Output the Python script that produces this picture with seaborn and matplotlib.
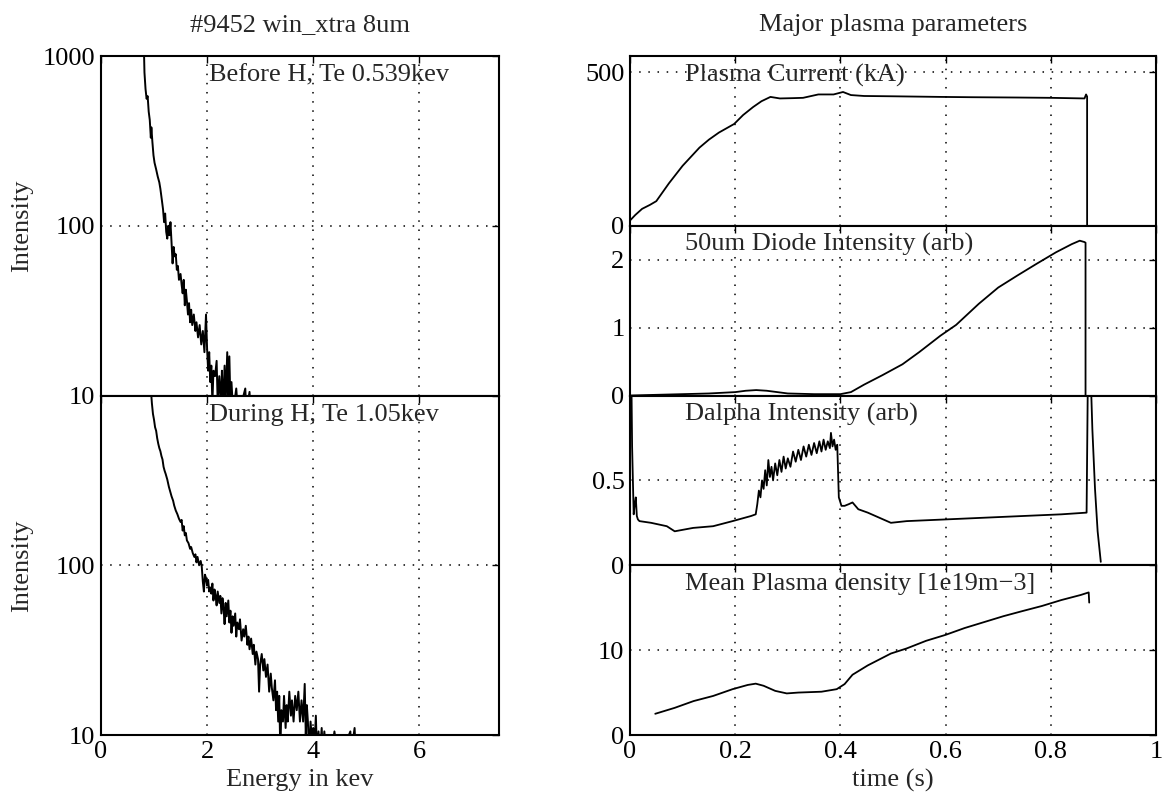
import numpy as np
import pandas as pd
import matplotlib
matplotlib.use("Agg")
import matplotlib.pyplot as plt
from matplotlib.ticker import NullLocator
import seaborn as sns

# --- spectra (energy in keV, intensity) ---
e_before = [0.81, 0.82, 0.84, 0.86, 0.88, 0.90, 0.92, 0.94, 0.95, 0.97, 0.99, 1.01, 1.04, 1.07,
            1.10, 1.12, 1.15, 1.17, 1.19, 1.21, 1.23, 1.25, 1.27, 1.29, 1.31, 1.33, 1.35, 1.37,
            1.39, 1.41, 1.43, 1.45, 1.47, 1.50, 1.52, 1.54, 1.56, 1.58, 1.60, 1.62, 1.64, 1.66,
            1.68, 1.70, 1.72, 1.75, 1.78, 1.80, 1.83, 1.86, 1.89, 1.92, 1.95, 1.98, 2.00, 2.02,
            2.04, 2.06, 2.08, 2.10, 2.12, 2.15, 2.18, 2.20, 2.23, 2.26, 2.28, 2.30, 2.33, 2.35,
            2.38, 2.40, 2.42, 2.44, 2.46, 2.49, 2.55, 2.58, 2.65, 2.72, 2.74, 2.80, 2.82, 2.85]
i_before = [1100, 800, 640, 560, 580, 470, 420, 330, 380, 310, 260, 235, 215, 195,
            180, 165, 140, 125, 105, 118, 92, 84, 100, 88, 105, 80, 60, 75,
            66, 68, 55, 58, 48, 52, 45, 40, 48, 34, 42, 36, 30, 35,
            27, 32, 26, 30, 24, 27, 22, 26, 20, 24, 18, 30, 19, 14,
            18, 12, 15, 9, 14, 13, 16, 9, 13, 9, 14, 8, 15, 9,
            18, 8, 17, 9, 12, 8, 11, 8, 9, 11, 8, 10.5, 8, 9]

e_during = [0.94, 0.96, 0.98, 1.00, 1.02, 1.04, 1.06, 1.08, 1.10, 1.12, 1.14, 1.16, 1.18, 1.20,
            1.22, 1.25, 1.28, 1.30, 1.33, 1.36, 1.38, 1.41, 1.44, 1.47, 1.50, 1.52, 1.54, 1.56,
            1.58, 1.60, 1.62, 1.65, 1.68, 1.70, 1.73, 1.76, 1.78, 1.80, 1.82, 1.85, 1.88, 1.90,
            1.92, 1.94, 1.96, 1.98, 2.00, 2.02, 2.04, 2.06, 2.08, 2.10, 2.12, 2.14, 2.16, 2.18,
            2.20, 2.23, 2.25, 2.27, 2.29, 2.31, 2.33, 2.35, 2.37, 2.40, 2.42, 2.44, 2.46, 2.48,
            2.50, 2.53, 2.55, 2.57, 2.60, 2.62, 2.65, 2.68, 2.70, 2.73, 2.76, 2.78, 2.80, 2.83,
            2.86, 2.88, 2.91, 2.93, 2.96, 2.98, 3.00, 3.03, 3.06, 3.08, 3.11, 3.14, 3.17, 3.20,
            3.22, 3.25, 3.28, 3.30, 3.32, 3.34, 3.36, 3.38, 3.40, 3.43, 3.45, 3.48, 3.50, 3.52,
            3.55, 3.58, 3.60, 3.63, 3.66, 3.69, 3.72, 3.75, 3.78, 3.81, 3.84, 3.86, 3.88, 3.90,
            3.92, 3.95, 3.98, 4.00, 4.02, 4.05, 4.07, 4.10, 4.13, 4.16, 4.18, 4.21, 4.24, 4.30,
            4.35, 4.40, 4.45, 4.52, 4.55, 4.70, 4.72, 4.78, 4.80]
i_during = [1100, 900, 780, 720, 650, 620, 560, 520, 490, 470, 440, 420, 380, 360,
            345, 320, 290, 275, 255, 240, 225, 210, 200, 188, 180, 185, 160, 170,
            150, 155, 140, 135, 125, 128, 118, 112, 116, 104, 112, 100, 106, 98,
            80, 70, 88, 84, 76, 82, 70, 74, 68, 78, 62, 72, 66, 58,
            70, 60, 66, 52, 64, 56, 45, 60, 50, 62, 46, 54, 40, 50,
            44, 52, 38, 46, 42, 48, 36, 42, 38, 44, 34, 38, 32, 37,
            30, 34, 26, 31, 28, 18, 26, 30, 24, 28, 22, 26, 18, 23,
            19, 16, 21, 14, 18, 12, 17, 8, 14, 12, 17, 11, 15, 12,
            18, 13, 16, 12, 17, 14, 18, 12, 16, 12, 20, 10, 15, 12,
            8, 12, 9, 11, 8, 13, 8, 10.5, 8, 11, 8, 10.5, 8, 10,
            8, 10.5, 8, 10, 8, 10.5, 8, 11, 8]

# --- plasma time traces (time in s) ---
t_ip = [0.0, 0.01, 0.023, 0.038, 0.05, 0.074, 0.10, 0.132, 0.15, 0.169, 0.198, 0.215, 0.234,
        0.25, 0.267, 0.285, 0.31, 0.329, 0.358, 0.387, 0.405, 0.42, 0.445, 0.5, 0.59, 0.65,
        0.737, 0.80, 0.864, 0.867, 0.869, 0.869]
ip = [17, 35, 55, 68, 80, 138, 195, 254, 280, 303, 331, 360, 386,
      405, 419, 414, 415, 416, 427, 427, 435, 425, 422, 421, 419, 418,
      417, 416, 414, 427, 420, 0]

t_diode = [0.0, 0.05, 0.10, 0.15, 0.20, 0.22, 0.24, 0.26, 0.28, 0.30, 0.35, 0.40, 0.42, 0.445,
           0.48, 0.518, 0.55, 0.59, 0.62, 0.663, 0.70, 0.737, 0.773, 0.81, 0.84, 0.855, 0.864,
           0.866, 0.866]
diode = [0.0, 0.01, 0.02, 0.03, 0.05, 0.07, 0.08, 0.07, 0.05, 0.03, 0.02, 0.02, 0.05, 0.16,
         0.30, 0.46, 0.64, 0.88, 1.04, 1.35, 1.59, 1.77, 1.94, 2.11, 2.23, 2.28, 2.26,
         2.25, 0.0]

t_dalpha = [0.002, 0.004, 0.007, 0.009, 0.011, 0.013, 0.015, 0.018, 0.04, 0.07, 0.085, 0.12,
            0.158, 0.195, 0.23, 0.239, 0.242, 0.245, 0.248, 0.251, 0.254, 0.257, 0.260, 0.263,
            0.266, 0.269, 0.272, 0.276, 0.280, 0.284, 0.288, 0.292, 0.296, 0.300, 0.305, 0.310,
            0.315, 0.320, 0.325, 0.330, 0.335, 0.340, 0.345, 0.350, 0.355, 0.360, 0.364, 0.368,
            0.372, 0.376, 0.380, 0.382, 0.385, 0.388, 0.391, 0.394, 0.397, 0.402, 0.408, 0.416,
            0.423, 0.434, 0.452, 0.474, 0.496, 0.526, 0.6, 0.673, 0.746, 0.82, 0.868, 0.871,
            0.875, 0.879, 0.884, 0.889, 0.895]
dalpha = [1.3, 0.7, 0.30, 0.36, 0.40, 0.29, 0.27, 0.26, 0.25, 0.23, 0.20, 0.22,
          0.23, 0.26, 0.29, 0.30, 0.36, 0.44, 0.40, 0.50, 0.45, 0.56, 0.47, 0.62,
          0.52, 0.58, 0.50, 0.60, 0.53, 0.62, 0.55, 0.64, 0.57, 0.63, 0.58, 0.67,
          0.61, 0.68, 0.62, 0.70, 0.64, 0.71, 0.65, 0.72, 0.66, 0.73, 0.67, 0.74,
          0.68, 0.73, 0.69, 0.78, 0.70, 0.74, 0.68, 0.71, 0.40, 0.35, 0.35, 0.36,
          0.37, 0.33, 0.31, 0.28, 0.25, 0.26, 0.27, 0.28, 0.29, 0.30, 0.31, 1.3,
          1.2, 0.8, 0.45, 0.2, 0.02]

t_dens = [0.048, 0.085, 0.121, 0.158, 0.195, 0.224, 0.239, 0.254, 0.276, 0.298, 0.32, 0.364,
          0.393, 0.408, 0.423, 0.452, 0.496, 0.526, 0.563, 0.6, 0.636, 0.673, 0.71, 0.746,
          0.783, 0.82, 0.857, 0.872, 0.873]
dens = [2.5, 3.2, 4.0, 4.6, 5.4, 5.9, 6.05, 5.8, 5.2, 4.9, 5.0, 5.1,
        5.4, 6.0, 7.1, 8.2, 9.6, 10.2, 11.1, 11.8, 12.6, 13.3, 14.0, 14.6,
        15.2, 15.9, 16.5, 16.8, 15.6]

sns.set_theme(style="white")
plt.rcParams['font.family'] = ['Liberation Serif', 'DejaVu Serif']
plt.rcParams['font.size'] = 19
plt.rcParams['axes.linewidth'] = 1.5
plt.rcParams['axes.edgecolor'] = 'black'

fig = plt.figure(figsize=(11.63, 7.99), dpi=100)

grid_style = dict(color='black', linestyle=(0, (1, 5)), linewidth=1.1)

def style_axes(ax):
    ax.grid(True, **grid_style)
    ax.tick_params(direction='in', length=5, width=1, top=True, right=True,
                   labelsize=19, pad=4, colors='black')
    for s in ax.spines.values():
        s.set_color('black')
        s.set_linewidth(1.5)
    ax.set_facecolor('white')

# left column
lx, lw = 0.0868, 0.3422
b0, h_left = 0.0801, 0.4249
ax_before = fig.add_axes([lx, b0 + h_left, lw, h_left])
ax_during = fig.add_axes([lx, b0, lw, h_left])

spec_panels = [
    (ax_before, e_before, i_before, "Before H, Te 0.539kev", ['10', '100', '1000']),
    (ax_during, e_during, i_during, "During H, Te 1.05kev", ['10', '100', '']),
]
for ax, ex, iy, label, ylabels in spec_panels:
    df = pd.DataFrame({"Energy": ex, "Intensity": iy})
    sns.lineplot(data=df, x="Energy", y="Intensity", ax=ax, color='black',
                 linewidth=1.4, estimator=None, sort=False)
    ax.set_yscale('log')
    ax.set_ylim(10, 1000)
    ax.set_xlim(0, 7.5)
    ax.set_yticks([10, 100, 1000])
    ax.set_yticklabels(ylabels)
    ax.yaxis.set_minor_locator(NullLocator())
    ax.set_xticks([0, 2, 4, 6])
    style_axes(ax)
    ax.set_ylabel("Intensity", fontsize=19, va='center')
    ax.yaxis.set_label_coords(-0.198, 0.5)
    ax.text(0.271, 0.975, label, transform=ax.transAxes, ha='left', va='top', fontsize=19)

ax_before.tick_params(labelbottom=False)
ax_before.set_xlabel("")
ax_during.set_xlabel("Energy in kev", fontsize=19)
ax_during.xaxis.set_label_coords(0.5, -0.10)

# right column
rx, rw = 0.5417, 0.4523
h_right = 0.21245
trace_panels = [
    (t_ip, ip, "Plasma Current (kA)", (0, 552), [0, 500], ['0', '500']),
    (t_diode, diode, "50um Diode Intensity (arb)", (0, 2.5), [0, 1, 2], ['0', '1', '2']),
    (t_dalpha, dalpha, "Dalpha Intensity (arb)", (0, 1), [0, 0.5, 1], ['0', '0.5', '']),
    (t_dens, dens, "Mean Plasma density [1e19m\u22123]", (0, 20), [0, 10, 20], ['0', '10', '']),
]
right_axes = []
for k, (tx, vy, label, ylim, yt, ytl) in enumerate(trace_panels):
    ax = fig.add_axes([rx, b0 + (3 - k) * h_right, rw, h_right])
    df = pd.DataFrame({"time": tx, "value": vy})
    sns.lineplot(data=df, x="time", y="value", ax=ax, color='black',
                 linewidth=1.3, estimator=None, sort=False)
    ax.set_xlim(0, 1)
    ax.set_ylim(*ylim)
    ax.set_xticks([0, 0.2, 0.4, 0.6, 0.8, 1])
    ax.set_xticklabels(['0', '0.2', '0.4', '0.6', '0.8', '1'])
    ax.set_yticks(yt)
    ax.set_yticklabels(ytl)
    style_axes(ax)
    ax.set_ylabel("")
    ax.set_xlabel("")
    ax.text(0.104, 0.955, label, transform=ax.transAxes, ha='left', va='top', fontsize=19)
    if k < 3:
        ax.tick_params(labelbottom=False)
    right_axes.append(ax)

right_axes[-1].set_xlabel("time (s)", fontsize=19)
right_axes[-1].xaxis.set_label_coords(0.5, -0.20)

fig.text(300 / 1163, 1 - 25 / 799, "#9452 win_xtra 8um", ha='center', va='center', fontsize=19)
fig.text(893 / 1163, 1 - 25 / 799, "Major plasma parameters", ha='center', va='center', fontsize=19)

fig.savefig("out.png", dpi=100, facecolor='white')
